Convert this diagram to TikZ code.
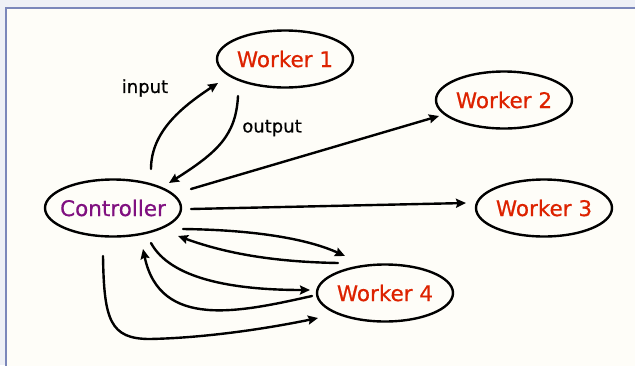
\documentclass[tikz,border=0pt]{standalone}
\usepackage{fontspec}
\setmainfont{DejaVu Sans}
\newfontfamily\handfont[FakeBold=0.6]{DejaVu Sans}
\usetikzlibrary{shapes.geometric,arrows.meta,calc}
\definecolor{slidebg}{HTML}{EEF0F6}
\definecolor{paper}{HTML}{FEFDF8}
\definecolor{framecol}{HTML}{7B87BA}
\definecolor{workred}{HTML}{DD2200}
\definecolor{ctrlpurple}{HTML}{801080}
\tikzset{
  proc/.style={ellipse, draw=black, line width=2.4pt, fill=paper,
    minimum width=136pt, minimum height=57pt, inner xsep=-20pt, inner ysep=0pt,
    font=\handfont\fontsize{21.5}{24}\selectfont},
  worker/.style={proc, text=workred},
  ctrlnode/.style={proc, text=ctrlpurple},
  link/.style={line width=2.4pt, black, line cap=round,
    -{Stealth[length=10pt,width=9pt,inset=1.5pt]}},
  lbl/.style={font=\handfont\fontsize{18}{20}\selectfont, text=black, inner sep=0pt}
}
\begin{document}
\begin{tikzpicture}[x=1pt,y=-1pt]
  % slide backdrop and frame
  \fill[slidebg] (0,0) rectangle (635,365);
  \useasboundingbox (0,0) rectangle (635,365);
  \fill[paper] (6,8) rectangle (645,375);
  \draw[framecol, line width=2pt] (6,375) -- (6,8) -- (645,8);

  % processes
  \node[ctrlnode] (ctrl) at (113,208) {Controller};
  \node[worker] (w1) at (285,59) {Worker 1};
  \node[worker] (w2) at (504,100) {Worker 2};
  \node[worker] (w3) at (544,208) {Worker 3};
  \node[worker] (w4) at (385,293) {Worker 4};

  % labels for the controller / worker 1 exchange
  \node[lbl] (inlbl) at (145,88) {input};
  \node[lbl] (outlbl) at (272,128) {output};

  % controller <-> worker 1
  \draw[link] ($(ctrl)+(38,-39)$) .. controls +(0,-39) and +(-33,22) .. ($(w1)+(-67,24)$);
  \draw[link] ($(w1)+(-47,37)$) .. controls +(-2,39) and +(49,-31) .. ($(ctrl)+(56,-25)$);

  % controller -> workers 2 and 3
  \draw[link] ($(ctrl)+(78,-19)$) -- ($(w2)+(-65,16)$);
  \draw[link] ($(ctrl)+(78,1)$) -- ($(w3)+(-78,-5)$);

  % controller <-> worker 4
  \draw[link] ($(ctrl)+(70,21)$) .. controls +(77,1) and +(-35,-16) .. ($(w4)+(-40,-37)$);
  \draw[link] ($(w4)+(-47,-30)$) .. controls +(-58,-1) and +(52,19) .. ($(ctrl)+(65,28)$);
  \draw[link] ($(ctrl)+(38,35)$) .. controls +(19,35) and +(-80,0) .. ($(w4)+(-75,-3)$);
  \draw[link] ($(w4)+(-73,3)$) .. controls +(-72,16) and +(17,81) .. ($(ctrl)+(30,41)$);
  \draw[link] ($(ctrl)+(-10,48)$) .. controls +(1,64) and +(-40,0) .. ($(ctrl)+(37,131)$)
    .. controls +(50,-1) and +(-58,12) .. ($(w4)+(-67,25)$);
\end{tikzpicture}
\end{document}
